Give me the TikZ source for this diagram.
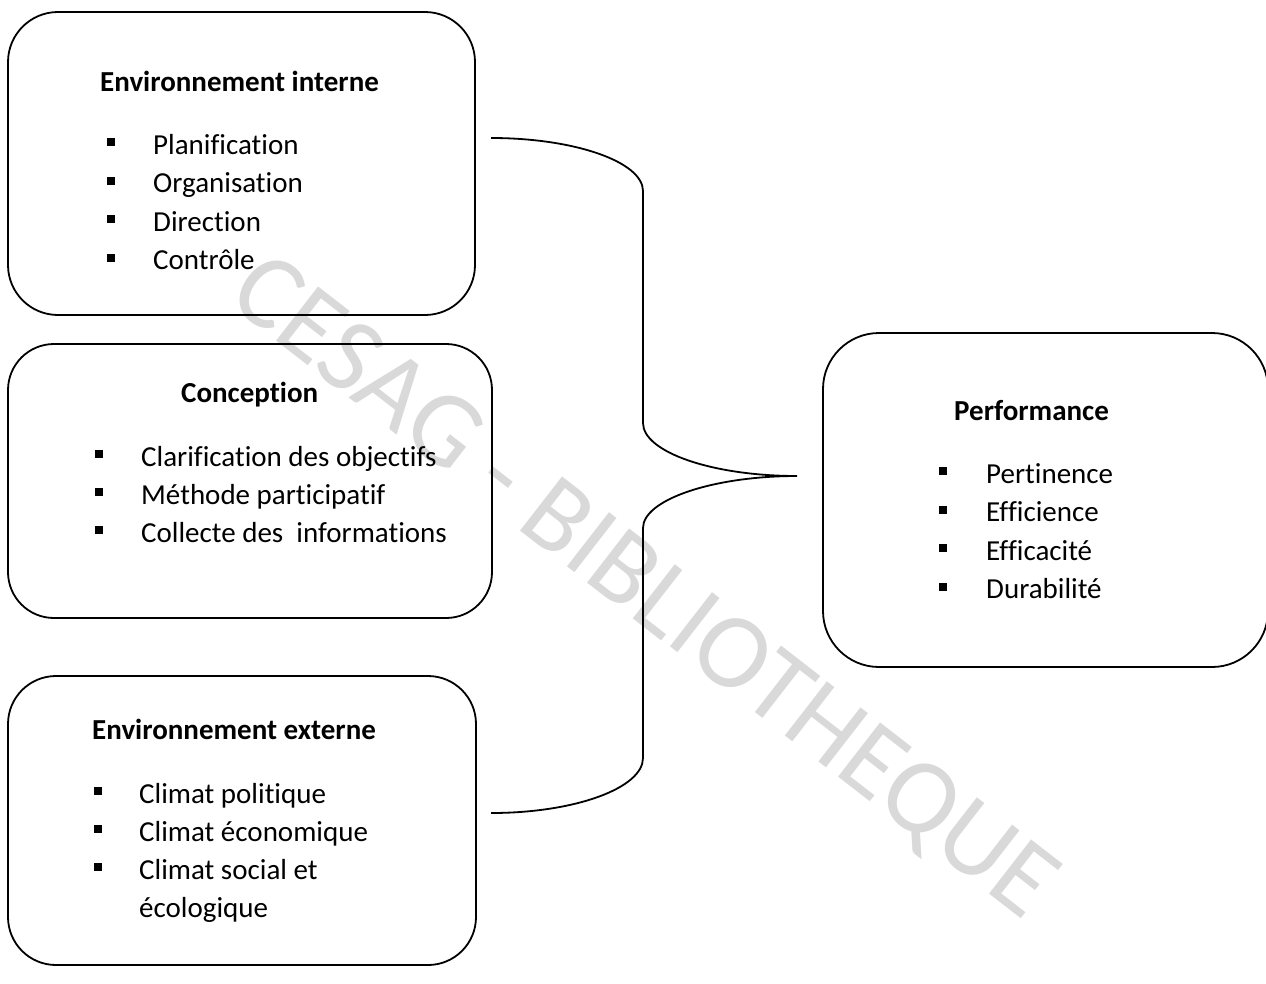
\documentclass[tikz,border=0pt]{standalone}
\usepackage{fontspec}
\setmainfont{Carlito}[Ligatures=NoCommon]
\begin{document}
\begin{tikzpicture}[x=1pt,y=-1pt,
  box/.style={draw, line width=1.8pt, rounded corners=#1, inner sep=0pt, outer sep=0pt, anchor=north west},
  bul/.style={fill, rectangle, minimum size=8pt, inner sep=0pt},
  txt/.style={anchor=base west, inner sep=0pt, font=\fontsize{29}{35}\selectfont},
  ttl/.style={anchor=base west, inner sep=0pt, font=\fontsize{29}{35}\selectfont\bfseries},
  brace/.style={draw, line width=1.8pt},
  wmark/.style={text=black!15, inner sep=0pt, font=\fontsize{107}{107}\selectfont}
]
\useasboundingbox (0,0) rectangle (1266,983);

% watermark
\node[wmark, rotate=-37.8] (wm) at (642,590) {CESAG - BIBLIOTHEQUE};

% boxes
\node[box=50pt, minimum width=467pt, minimum height=303pt] (b1) at (8,12) {};
\node[box=46pt, minimum width=484pt, minimum height=274pt] (b2) at (8,344) {};
\node[box=48pt, minimum width=468pt, minimum height=289pt] (b3) at (8,676) {};
\node[box=56pt, minimum width=445pt, minimum height=334pt] (b4) at (823,333) {};

% box 1
\node[ttl] (t1) at (100,91) {Environnement interne};
\node[bul] (p1) at (111,142) {};
\node[bul] (p2) at (111,180.5) {};
\node[bul] (p3) at (111,219) {};
\node[bul] (p4) at (111,257.5) {};
\node[txt] (l1) at (153,154) {Planification};
\node[txt] (l2) at (153,192.5) {Organisation};
\node[txt] (l3) at (153,231) {Direction};
\node[txt] (l4) at (153,269.5) {Contrôle};

% box 2
\node[ttl] (t2) at (181,402) {Conception};
\node[bul] (q1) at (99,454) {};
\node[bul] (q2) at (99,492) {};
\node[bul] (q3) at (99,530) {};
\node[txt] (m1) at (141,466) {Clarification des objectifs};
\node[txt] (m2) at (141,504) {Méthode participatif};
\node[txt] (m3) at (141,542) {Collecte des \ informations};

% box 3
\node[ttl] (t3) at (92,739) {Environnement externe};
\node[bul] (r1) at (98,791) {};
\node[bul] (r2) at (98,829) {};
\node[bul] (r3) at (98,867) {};
\node[txt] (n1) at (139,803) {Climat politique};
\node[txt] (n2) at (139,841) {Climat économique};
\node[txt] (n3) at (139,879) {Climat social et};
\node[txt] (n4) at (139,917) {écologique};

% box 4
\node[ttl] (t4) at (954,420) {Performance};
\node[bul] (s1) at (943,471) {};
\node[bul] (s2) at (943,509.5) {};
\node[bul] (s3) at (943,548) {};
\node[bul] (s4) at (943,586.5) {};
\node[txt] (o1) at (986,483) {Pertinence};
\node[txt] (o2) at (986,521.5) {Efficience};
\node[txt] (o3) at (986,560) {Efficacité};
\node[txt] (o4) at (986,598.5) {Durabilité};

% brace
\coordinate (bt) at (491,138);
\coordinate (bv1) at (643,191);
\coordinate (bv2) at (643,423);
\coordinate (tip) at (797,476);
\coordinate (bv3) at (643,528);
\coordinate (bv4) at (643,758);
\coordinate (bb) at (491,813);
\path[brace] (bt) .. controls (575,138) and (643,162) .. (bv1) -- (bv2)
  .. controls (643,452) and (712,476) .. (tip)
  .. controls (712,476) and (643,500) .. (bv3) -- (bv4)
  .. controls (643,788) and (575,813) .. (bb);
\end{tikzpicture}
\end{document}
